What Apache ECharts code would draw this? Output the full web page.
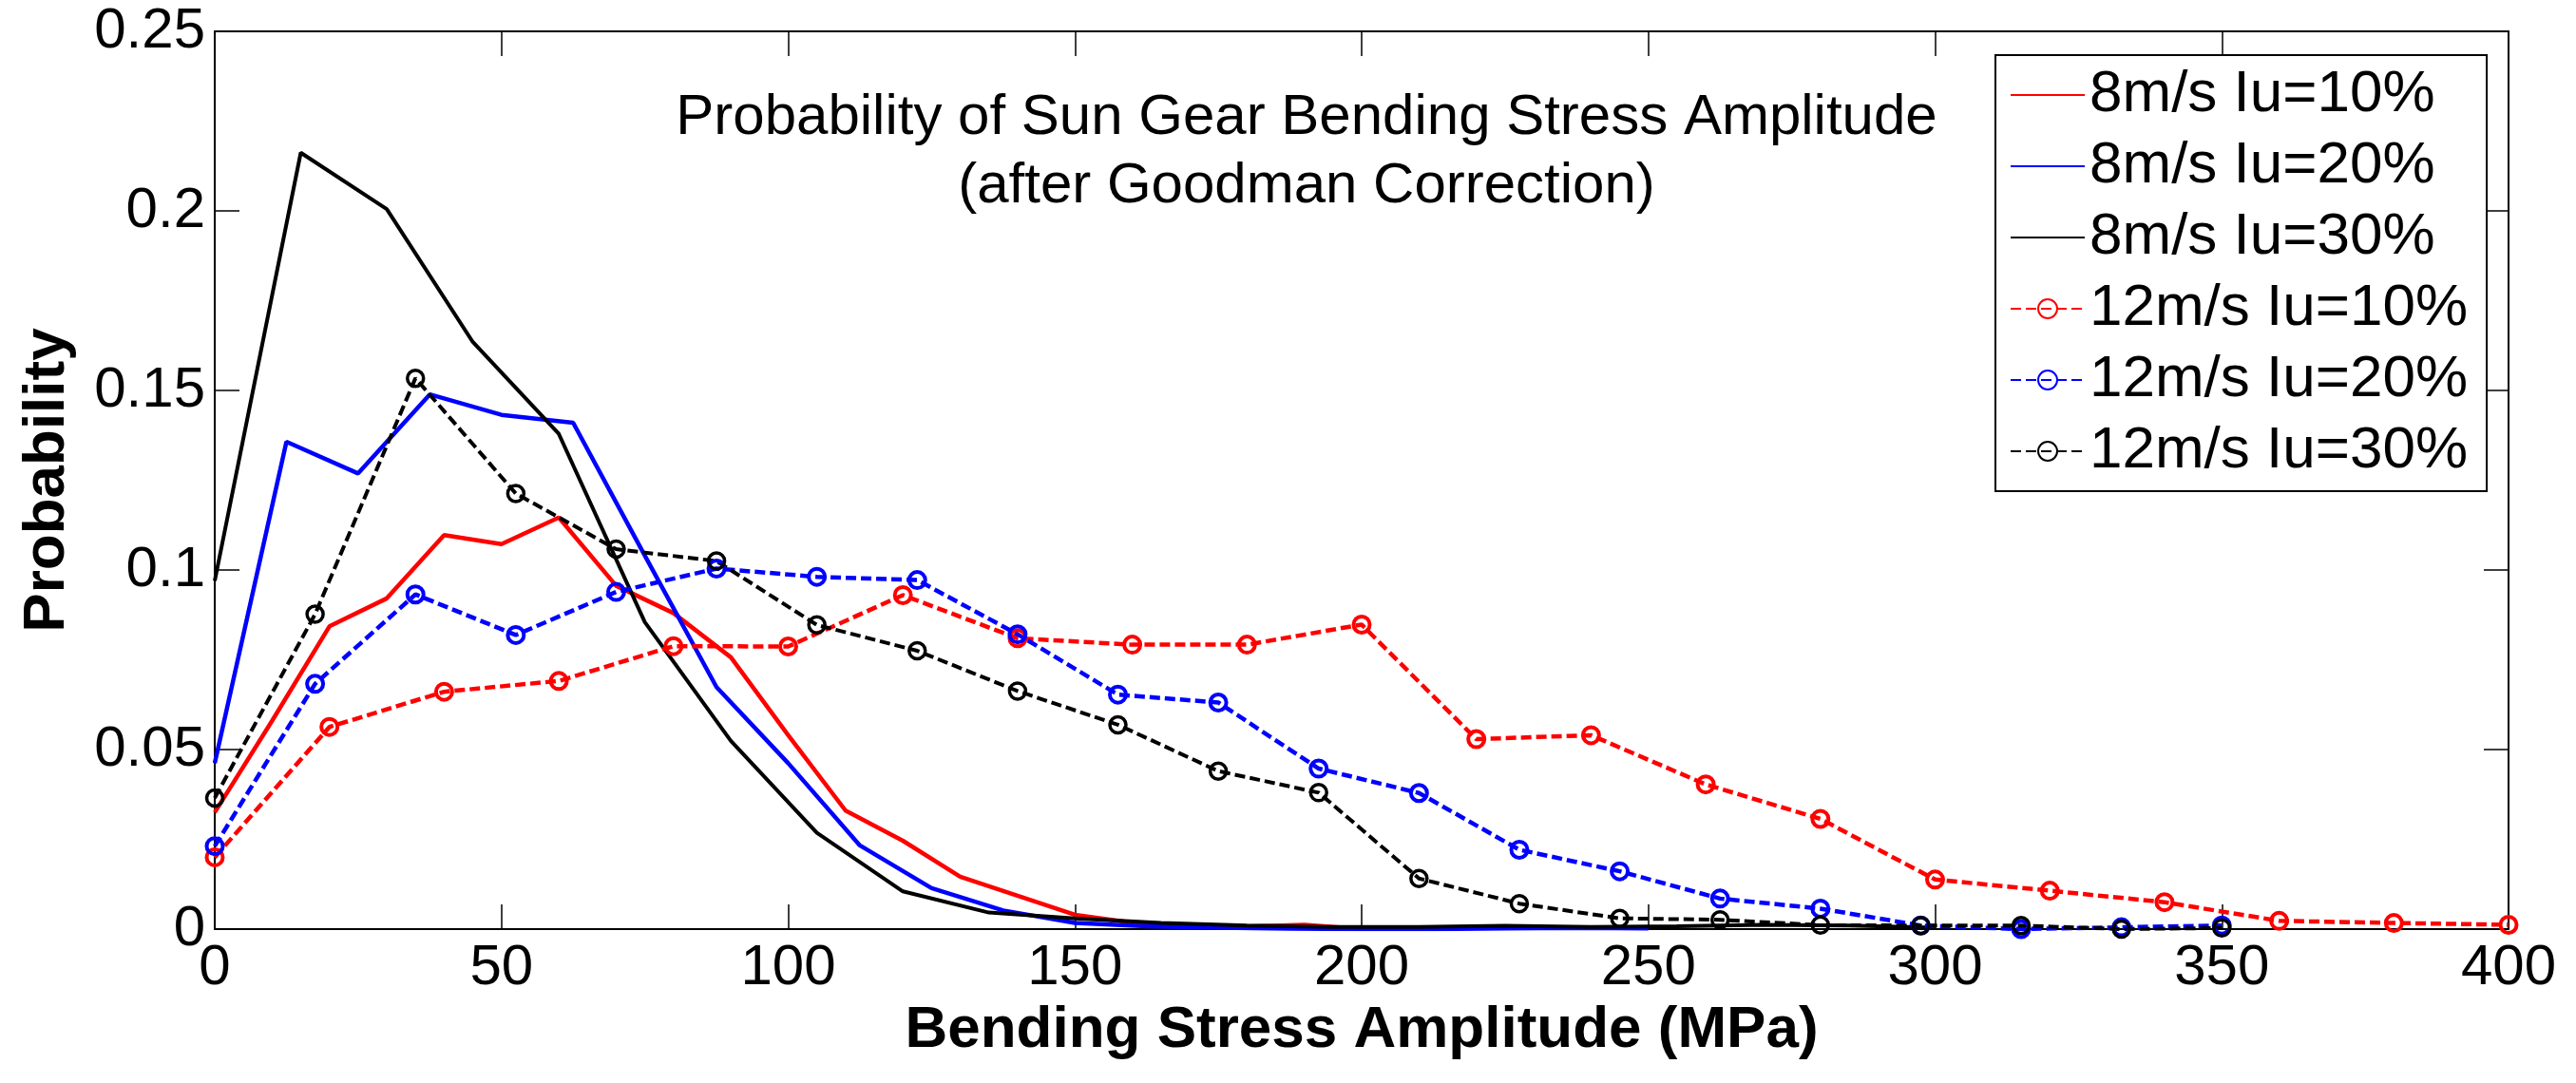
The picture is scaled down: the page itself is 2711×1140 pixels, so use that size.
<html>
<head>
<meta charset="UTF-8">
<script src="https://cdn.jsdelivr.net/npm/echarts@6/dist/echarts.min.js"></script>
<style>
    body { margin: 0; background: #fff; }
</style>
</head>
<body>
<div id="chart" style="width:2711px;height:1140px;"></div>
<script>
    // x positions (MPa) for each curve
    var x8_10 = [0, 10, 20, 30, 40, 50, 60, 70, 80, 90, 100, 110, 120, 130, 140, 150, 160, 170, 180, 190, 200];
    var x8_20 = [0, 12.5, 25, 37.5, 50, 62.5, 75, 87.5, 100, 112.5, 125, 137.5, 150, 162.5, 175, 187.5, 200, 212.5, 225, 237.5, 250];
    var x8_30 = [0, 15, 30, 45, 60, 75, 90, 105, 120, 135, 150, 165, 180, 195, 210, 225, 240, 255, 270, 285, 300];
    var x12_10 = [0, 20, 40, 60, 80, 100, 120, 140, 160, 180, 200, 220, 240, 260, 280, 300, 320, 340, 360, 380, 400];
    var x12_20 = [0, 17.5, 35, 52.5, 70, 87.5, 105, 122.5, 140, 157.5, 175, 192.5, 210, 227.5, 245, 262.5, 280, 297.5, 315, 332.5, 350];
    var x12_30 = x12_20;

    // probabilities
    var p8_10 = [0.0325, 0.058, 0.0843, 0.0921, 0.1097, 0.1072, 0.1146, 0.0956, 0.088, 0.0757, 0.054, 0.033, 0.0246, 0.0146, 0.0093, 0.004, 0.0018, 0.001, 0.0007, 0.0012, 0.0];
    var p8_20 = [0.0462, 0.1357, 0.1269, 0.1489, 0.1432, 0.141, 0.104, 0.0674, 0.0462, 0.0233, 0.0114, 0.0052, 0.0017, 0.0008, 0.0004, 0.0001, 0.0, 0.0, 0.0002, 0.0003, 0.0002];
    var p8_30 = [0.097, 0.2162, 0.2005, 0.1635, 0.1379, 0.0855, 0.0524, 0.0268, 0.0105, 0.0046, 0.003, 0.0017, 0.001, 0.0006, 0.0006, 0.0009, 0.0006, 0.0008, 0.0012, 0.001, 0.0004];
    var p12_10 = [0.020, 0.0563, 0.0661, 0.0691, 0.0788, 0.0787, 0.093, 0.081, 0.0792, 0.0792, 0.0848, 0.0529, 0.054, 0.0403, 0.0307, 0.0138, 0.0107, 0.0075, 0.0023, 0.0017, 0.0012];
    var p12_20 = [0.0231, 0.0683, 0.0932, 0.0819, 0.0939, 0.1004, 0.0981, 0.0972, 0.0821, 0.0653, 0.0631, 0.0447, 0.0379, 0.0221, 0.0161, 0.0085, 0.0057, 0.001, 0.0, 0.0005, 0.001];
    var p12_30 = [0.0365, 0.0877, 0.1534, 0.1213, 0.1058, 0.1025, 0.0847, 0.0775, 0.0663, 0.0569, 0.044, 0.038, 0.0141, 0.0071, 0.003, 0.0026, 0.0011, 0.001, 0.001, 0.0, 0.0003];

    var names = ['8m/s Iu=10%', '8m/s Iu=20%', '8m/s Iu=30%', '12m/s Iu=10%', '12m/s Iu=20%', '12m/s Iu=30%'];
    var titleLines = ['Probability of Sun Gear Bending Stress Amplitude', '(after Goodman Correction)'];

    var FONT = '"Liberation Sans", Arial, Helvetica, sans-serif';

    function pairs(xs, ys) {
        var out = [];
        for (var i = 0; i < xs.length; i++) {
            out.push([xs[i], ys[i]]);
        }
        return out;
    }

    function solid(name, xs, ys, color, w) {
        return {
            name: name,
            type: 'line',
            data: pairs(xs, ys),
            symbol: 'none',
            lineStyle: {color: color, width: w, type: 'solid'},
            itemStyle: {color: 'transparent', borderWidth: 0},
            emphasis: {disabled: true}
        };
    }

    function dashed(name, xs, ys, color, w, ring) {
        return {
            name: name,
            type: 'line',
            data: pairs(xs, ys),
            symbol: 'circle',
            symbolSize: 17,
            showSymbol: true,
            lineStyle: {color: color, width: w, type: [11, 5]},
            itemStyle: {color: 'transparent', borderColor: color, borderWidth: ring},
            emphasis: {disabled: true}
        };
    }

    var tickStyle = {show: true, inside: true, length: 26, lineStyle: {color: '#000', width: 1.5}};
    var lineStyle = {show: true, onZero: false, lineStyle: {color: '#000', width: 2}};

    var chart = echarts.init(document.getElementById('chart'));
    chart.setOption({
        animation: false,
        backgroundColor: '#fff',
        grid: {left: 226, right: 71, top: 33, bottom: 162},
        legend: {
            orient: 'vertical',
            left: 2100,
            top: 58,
            padding: [11, 20, 11, 15],
            itemGap: 13,
            itemWidth: 78,
            itemHeight: 25,
            borderColor: '#000',
            borderWidth: 2,
            backgroundColor: '#fff',
            selectedMode: false,
            textStyle: {fontFamily: FONT, fontSize: 62, lineHeight: 62, color: '#000'},
            data: names
        },
        graphic: [{
            type: 'text',
            x: 1375,
            y: 88,
            style: {
                text: titleLines.join('\n'),
                fontFamily: FONT,
                fontSize: 60,
                lineHeight: 72,
                fill: '#000',
                align: 'center',
                verticalAlign: 'top'
            },
            z: 10
        }],
        xAxis: [{
            type: 'value',
            min: 0, max: 400, interval: 50,
            name: 'Bending Stress Amplitude (MPa)',
            nameLocation: 'middle',
            nameGap: 64,
            nameTextStyle: {fontFamily: FONT, fontSize: 62, fontWeight: 'bold', color: '#000'},
            axisLine: lineStyle,
            axisTick: tickStyle,
            axisLabel: {fontFamily: FONT, fontSize: 60, color: '#000', margin: 11},
            splitLine: {show: false}
        }, {
            type: 'value',
            position: 'top',
            min: 0, max: 400, interval: 50,
            axisLine: lineStyle,
            axisTick: tickStyle,
            axisLabel: {show: false},
            splitLine: {show: false}
        }],
        yAxis: [{
            type: 'value',
            min: 0, max: 0.25, interval: 0.05,
            name: 'Probability',
            nameLocation: 'middle',
            nameGap: 145,
            nameTextStyle: {fontFamily: FONT, fontSize: 62, fontWeight: 'bold', color: '#000'},
            axisLine: lineStyle,
            axisTick: tickStyle,
            axisLabel: {fontFamily: FONT, fontSize: 60, color: '#000', margin: 10},
            splitLine: {show: false}
        }, {
            type: 'value',
            position: 'right',
            min: 0, max: 0.25, interval: 0.05,
            axisLine: lineStyle,
            axisTick: tickStyle,
            axisLabel: {show: false},
            splitLine: {show: false}
        }],
        series: [
            solid(names[0], x8_10, p8_10, '#ff0000', 4.5),
            solid(names[1], x8_20, p8_20, '#0000ff', 4.5),
            solid(names[2], x8_30, p8_30, '#000000', 4),
            dashed(names[3], x12_10, p12_10, '#ff0000', 4.5, 4),
            dashed(names[4], x12_20, p12_20, '#0000ff', 4.5, 4),
            dashed(names[5], x12_30, p12_30, '#000000', 4, 3.5)
        ]
    });
</script>
</body>
</html>
